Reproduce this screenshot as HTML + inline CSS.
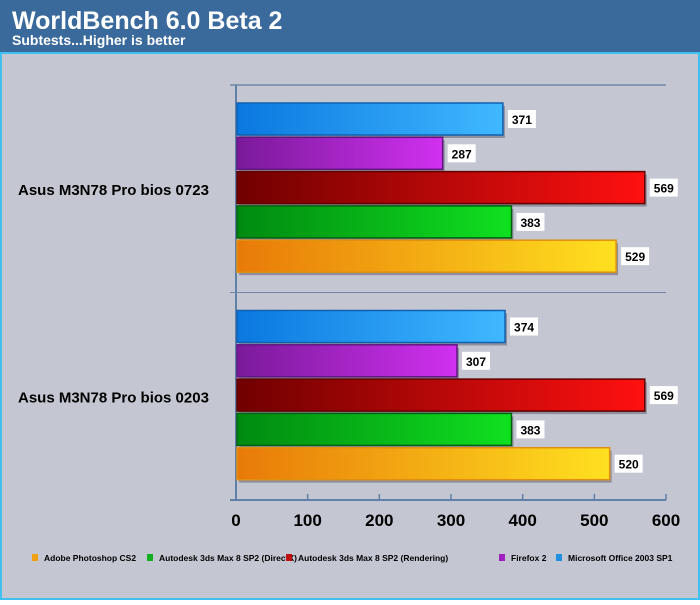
<!DOCTYPE html>
<html><head><meta charset="utf-8"><style>
body{margin:0;width:700px;height:600px;overflow:hidden;font-family:"Liberation Sans",Arial,sans-serif;}
</style></head><body>
<svg width="700" height="600" xmlns="http://www.w3.org/2000/svg">
<defs>
<linearGradient id="gBlue" x1="0" x2="1"><stop offset="0" stop-color="#0a78e0"/><stop offset="1" stop-color="#40b8ff"/></linearGradient>
<linearGradient id="gPurple" x1="0" x2="1"><stop offset="0" stop-color="#7a1a9a"/><stop offset="1" stop-color="#d030f0"/></linearGradient>
<linearGradient id="gRed" x1="0" x2="1"><stop offset="0" stop-color="#700000"/><stop offset="1" stop-color="#ff1010"/></linearGradient>
<linearGradient id="gGreen" x1="0" x2="1"><stop offset="0" stop-color="#008a10"/><stop offset="1" stop-color="#10e020"/></linearGradient>
<linearGradient id="gOrange" x1="0" x2="1"><stop offset="0" stop-color="#e87a08"/><stop offset="1" stop-color="#ffe020"/></linearGradient>
</defs>
<rect x="0" y="0" width="700" height="600" fill="#3a6a9c"/>
<rect x="1" y="53" width="698" height="546" fill="#c4c6d2" stroke="#40c0f0" stroke-width="2"/>
<text x="12" y="29" fill="#fff" font-size="25" font-weight="bold">WorldBench 6.0 Beta 2</text>
<text x="12" y="45" fill="#fff" font-size="14" font-weight="bold">Subtests...Higher is better</text>
<g id="plot"></g>
<g id="legend"></g>
</svg>
<script>
const categories=["Asus M3N78 Pro bios 0723","Asus M3N78 Pro bios 0203"];
const seriesNames=["Microsoft Office 2003 SP1","Firefox 2","Autodesk 3ds Max 8 SP2 (Rendering)","Autodesk 3ds Max 8 SP2 (DirectX)","Adobe Photoshop CS2"];
const office=[371,374];
const firefox=[287,307];
const rendering=[569,569];
const directx=[383,383];
const photoshop=[529,520];
const ticks=[0,100,200,300,400,500,600];
const legendOrder=["Adobe Photoshop CS2","Autodesk 3ds Max 8 SP2 (DirectX)","Autodesk 3ds Max 8 SP2 (Rendering)","Firefox 2","Microsoft Office 2003 SP1"];
const NS="http://www.w3.org/2000/svg";
const values=[office,firefox,rendering,directx,photoshop];
const fills=["url(#gBlue)","url(#gPurple)","url(#gRed)","url(#gGreen)","url(#gOrange)"];
const strokes=["#1060b0","#601880","#600000","#006010","#e09010"];
const legColors={"Adobe Photoshop CS2":"#f0a010","Autodesk 3ds Max 8 SP2 (DirectX)":"#10b020","Autodesk 3ds Max 8 SP2 (Rendering)":"#c01010","Firefox 2":"#a020c0","Microsoft Office 2003 SP1":"#2090e0"};
const x0=236,x1=666,maxV=600,yTop=85,yBot=500;
const xs=v=>x0+(v/maxV)*(x1-x0);
const bandH=(yBot-yTop)/categories.length;
const plot=document.getElementById('plot');
function mk(t,a,p){const e=document.createElementNS(NS,t);for(const k in a)e.setAttribute(k,a[k]);(p||plot).appendChild(e);return e;}
let l=mk('line',{x1:x0-6,y1:yTop,x2:x1,y2:yTop,stroke:'#7088a8','stroke-width':1.5});


l=mk('line',{x1:x0,y1:yTop,x2:x0,y2:yBot,stroke:'#6080a8','stroke-width':2});


l=mk('line',{x1:x0-6,y1:yBot,x2:x1,y2:yBot,stroke:'#6080a8','stroke-width':2});


for(let c=1;c<categories.length;c++){
  const y=yTop+bandH*c;
  l=mk('line',{x1:x0-6,y1:y,x2:x1,y2:y,stroke:'#7088a8','stroke-width':1});
  
  
}
ticks.forEach(t=>{
  const x=xs(t);
  const tk=mk('line',{x1:x,y1:yBot,x2:x,y2:yBot-6,stroke:'#6080a8','stroke-width':1.5});
  
  
  const tx=mk('text',{x:x,y:yBot+26,'text-anchor':'middle','font-size':17,'font-weight':'bold',fill:'#000'});
  tx.textContent=t;
  
  
});
const barH=32,gap=2.3,pad=18;
categories.forEach((cat,ci)=>{
  const by=yTop+bandH*ci+pad;
  const lab=mk('text',{x:18,y:yTop+bandH*ci+bandH/2+6,'font-size':15,'font-weight':'bold',fill:'#000'});
  lab.textContent=cat;
  
  
  values.forEach((arr,si)=>{
    const y=by+si*(barH+gap);
    const w=xs(arr[ci])-x0;
    const sh=mk('rect',{x:x0+3,y:y+3,width:w,height:barH,fill:'#6a6c7a',opacity:0.6});
    
    
    const r=mk('rect',{x:x0+1,y:y,width:w,height:barH,fill:fills[si],stroke:strokes[si],'stroke-width':1.5});
    
    
    const bx=mk('rect',{x:x0+w+6,y:y+7,width:28,height:18,fill:'#fff'});
    
    
    const vt=mk('text',{x:x0+w+20,y:y+21,'text-anchor':'middle','font-size':12,'font-weight':'bold',fill:'#000'});
    vt.textContent=arr[ci];
    
    
  });
});
const leg=document.getElementById('legend');
const lx=[32,147,286,499,556];
legendOrder.forEach((n,i)=>{
  const g=mk('g',{},leg);
  
  
  mk('rect',{x:lx[i],y:554,width:6,height:7,fill:legColors[n]},g);
  const t=mk('text',{x:lx[i]+12,y:561,'font-size':8.5,'font-weight':'bold',fill:'#000'},g);
  t.textContent=n;
});
</script>
</body></html>
